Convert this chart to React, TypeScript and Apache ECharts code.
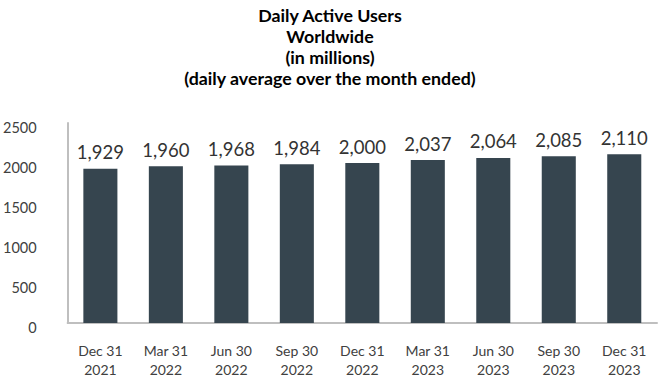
import React, { useEffect, useRef } from "react";
import * as echarts from "echarts";

const categories = [
  "Dec 31\n2021", "Mar 31\n2022", "Jun 30\n2022", "Sep 30\n2022", "Dec 31\n2022",
  "Mar 31\n2023", "Jun 30\n2023", "Sep 30\n2023", "Dec 31\n2023",
];
const dau = [1929, 1960, 1968, 1984, 2000, 2037, 2064, 2085, 2110];
const titleLines = [
  "Daily Active Users",
  "Worldwide",
  "(in millions)",
  "(daily average over the month ended)",
];

const FONT = "Lato, 'Open Sans', sans-serif";

export default function App() {
  const ref = useRef<HTMLDivElement>(null);
  useEffect(() => {
    if (!ref.current) return;
    const chart = echarts.init(ref.current, undefined, { renderer: "svg" });
    chart.setOption({
      animation: false,
      backgroundColor: "#ffffff",
      title: {
        text: titleLines.join("\n"),
        left: "center",
        top: -1,
        textStyle: {
          fontFamily: FONT,
          fontWeight: "bold",
          fontSize: 17.8,
          lineHeight: 21,
          color: "#000000",
        },
      },
      grid: { left: 66, right: 3, top: 123, bottom: 57, containLabel: false },
      xAxis: {
        type: "category",
        data: categories,
        axisLine: { show: true, lineStyle: { color: "#bfbfbf", width: 2 } },
        axisTick: { show: false },
        axisLabel: {
          fontFamily: FONT,
          fontSize: 14,
          lineHeight: 19,
          color: "#404040",
          margin: 18,
          interval: 0,
        },
      },
      yAxis: {
        type: "value",
        min: 0,
        max: 2500,
        interval: 500,
        axisLine: { show: true, lineStyle: { color: "#bfbfbf", width: 2 } },
        axisTick: { show: false },
        splitLine: { show: false },
        axisLabel: {
          fontFamily: FONT,
          fontSize: 14.5,
          color: "#404040",
          margin: 31,
          verticalAlign: "top",
          lineHeight: 8,
          formatter: (v: number) => String(v),
        },
      },
      series: [
        {
          type: "bar",
          data: dau,
          barWidth: "52%",
          itemStyle: { color: "#36454f" },
          label: {
            show: true,
            position: "top",
            distance: 7,
            fontFamily: FONT,
            fontSize: 18.5,
            color: "#333333",
            formatter: (p: any) => Number(p.value).toLocaleString("en-US"),
          },
        },
      ],
    });
    return () => chart.dispose();
  }, []);
  return <div ref={ref} style={{ width: 660, height: 380, position: "absolute", left: 0, top: 0 }} />;
}
